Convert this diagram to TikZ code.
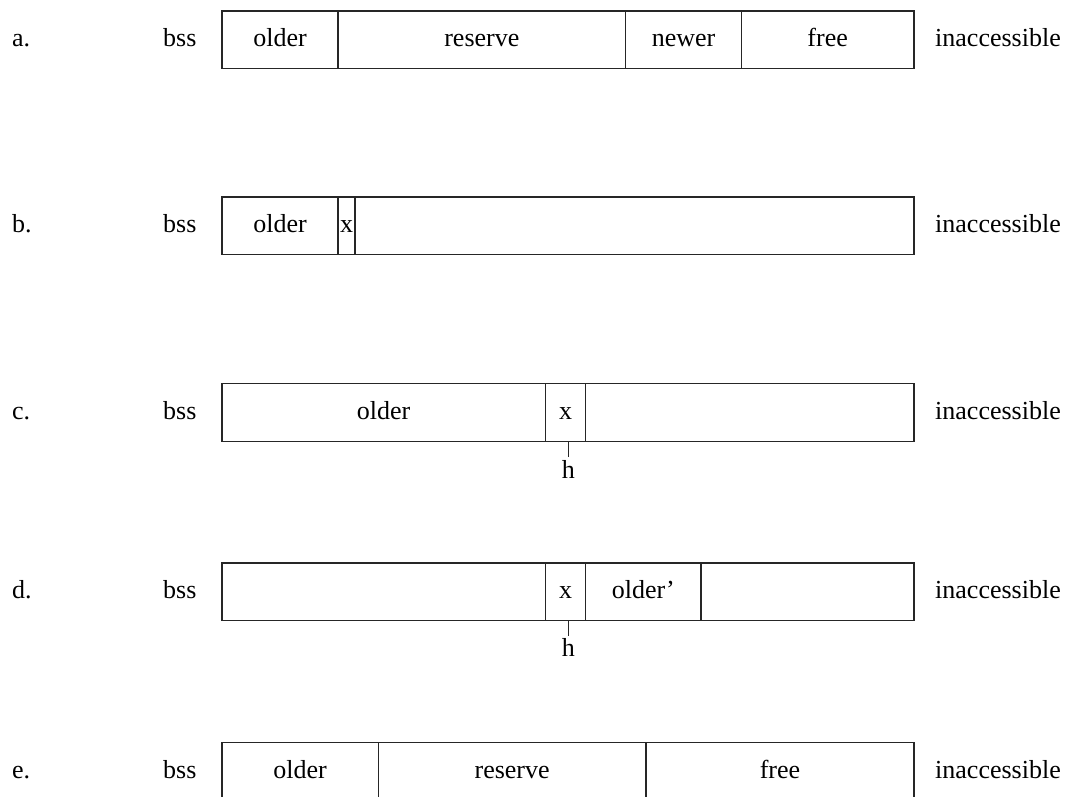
\documentclass[tikz,border=0pt]{standalone}
\usepackage{fontspec}
\setmainfont{Liberation Serif}
\begin{document}
\begin{tikzpicture}[x=1pt,y=-1pt,
  txt/.style={font=\fontsize{26}{30}\selectfont},
  cell/.style={txt, draw=black!85, line width=1.2pt, inner sep=0pt, outer sep=0pt,
    minimum height=57.5pt, text height=18.2pt, text depth=4.2pt, anchor=west},
  lbl/.style={txt, inner sep=0pt, anchor=base west},
  hlbl/.style={txt, inner xsep=0pt, inner ysep=3pt, outer sep=0pt, anchor=north,
    text height=18.2pt, text depth=5.2pt},
  tick/.style={draw=black!85, line width=1.2pt}]
\useasboundingbox (0,0) rectangle (1070,797);

% row a
\node[lbl] (la) at (12,46.75) {a.};
\node[lbl] (ba) at (163,46.75) {bss};
\node[cell, minimum width=116pt] (a1) at (222,39.75) {older};
\node[cell, minimum width=287.7pt] (a2) at (338,39.75) {reserve};
\node[cell, minimum width=115.6pt] (a3) at (625.7,39.75) {newer};
\node[cell, minimum width=172.7pt] (a4) at (741.3,39.75) {free};
\node[lbl] (ia) at (935,46.75) {inaccessible};

% row b
\node[lbl] (lb) at (12,232.8) {b.};
\node[lbl] (bb) at (163,232.8) {bss};
\node[cell, minimum width=116pt] (b1) at (222,225.8) {older};
\node[cell, minimum width=17pt] (b2) at (338,225.8) {x};
\node[cell, minimum width=559pt] (b3) at (355,225.8) {};
\node[lbl] (ib) at (935,232.8) {inaccessible};

% row c
\node[lbl] (lc) at (12,419.5) {c.};
\node[lbl] (bc) at (163,419.5) {bss};
\node[cell, minimum width=323.3pt] (c1) at (222,412.5) {older};
\node[cell, minimum width=40.4pt] (c2) at (545.3,412.5) {x};
\node[cell, minimum width=328.3pt] (c3) at (585.7,412.5) {};
\node[lbl] (ic) at (935,419.5) {inaccessible};
\node[hlbl] (hc) at (568.3,457) {h};
\draw[tick] (hc.north) -- (hc.north |- c2.south);

% row d
\node[lbl] (ld) at (12,598.8) {d.};
\node[lbl] (bd) at (163,598.8) {bss};
\node[cell, minimum width=323.3pt] (d1) at (222,591.8) {};
\node[cell, minimum width=40.4pt] (d2) at (545.3,591.8) {x};
\node[cell, minimum width=115.3pt] (d3) at (585.7,591.8) {older'};
\node[cell, minimum width=213pt] (d4) at (701,591.8) {};
\node[lbl] (id) at (935,598.8) {inaccessible};
\node[hlbl] (hd) at (568.3,635.7) {h};
\draw[tick] (hd.north) -- (hd.north |- d2.south);

% row e
\node[lbl] (le) at (12,778.4) {e.};
\node[lbl] (be) at (163,778.4) {bss};
\node[cell, minimum width=156.3pt] (e1) at (222,771.4) {older};
\node[cell, minimum width=267.7pt] (e2) at (378.3,771.4) {reserve};
\node[cell, minimum width=268pt] (e3) at (646,771.4) {free};
\node[lbl] (ie) at (935,778.4) {inaccessible};
\end{tikzpicture}
\end{document}
